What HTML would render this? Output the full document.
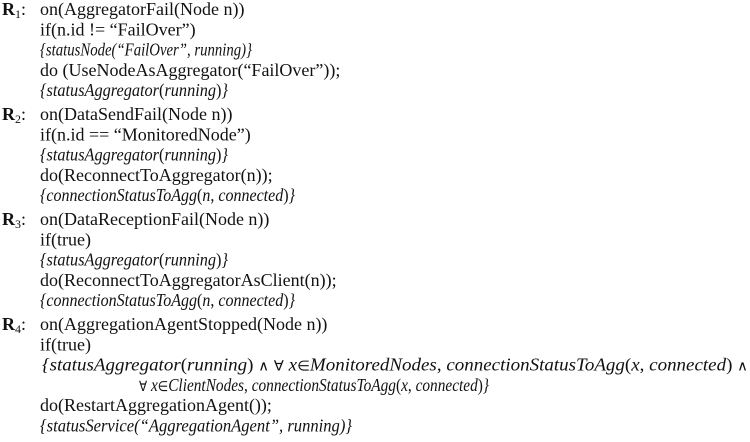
<!DOCTYPE html>
<html><head><meta charset="utf-8"><style>
html,body{margin:0;padding:0;background:#fff;}
svg{display:block;}
text{fill:#111;}
.i{font-style:italic;}
.b{font-weight:bold;}
.s{font-size:14px;}
</style></head><body>
<svg width="750" height="442" viewBox="0 0 750 442" font-family="'Liberation Serif','Times New Roman',serif" font-size="18">
<!-- R1 -->
<text x="2" y="15"><tspan class="b">R</tspan><tspan font-size="12" dy="3">1</tspan><tspan dy="-3">:</tspan></text>
<text x="40" y="15">on(AggregatorFail(Node n))</text>
<text x="40" y="35.3">if(n.id != “FailOver”)</text>
<text x="40" y="55.6" class="i" textLength="212" lengthAdjust="spacingAndGlyphs">{statusNode(“FailOver”, running)}</text>
<text x="40" y="75.9">do (UseNodeAsAggregator(“FailOver”));</text>
<text x="40" y="96.2" textLength="188" lengthAdjust="spacingAndGlyphs"><tspan class="i">{statusAggregator</tspan>(<tspan class="i">running</tspan>)<tspan class="i">}</tspan></text>
<!-- R2 -->
<text x="2" y="120"><tspan class="b">R</tspan><tspan font-size="12" dy="3">2</tspan><tspan dy="-3">:</tspan></text>
<text x="40" y="120">on(DataSendFail(Node n))</text>
<text x="40" y="140.3">if(n.id == “MonitoredNode”)</text>
<text x="40" y="160.6" textLength="188" lengthAdjust="spacingAndGlyphs"><tspan class="i">{statusAggregator</tspan>(<tspan class="i">running</tspan>)<tspan class="i">}</tspan></text>
<text x="40" y="180.9">do(ReconnectToAggregator(n));</text>
<text x="40" y="201.2" textLength="255" lengthAdjust="spacingAndGlyphs"><tspan class="i">{connectionStatusToAgg</tspan>(<tspan class="i">n</tspan>, <tspan class="i">connected</tspan>)<tspan class="i">}</tspan></text>
<!-- R3 -->
<text x="2" y="225"><tspan class="b">R</tspan><tspan font-size="12" dy="3">3</tspan><tspan dy="-3">:</tspan></text>
<text x="40" y="225">on(DataReceptionFail(Node n))</text>
<text x="40" y="245.3">if(true)</text>
<text x="40" y="265.6" textLength="188" lengthAdjust="spacingAndGlyphs"><tspan class="i">{statusAggregator</tspan>(<tspan class="i">running</tspan>)<tspan class="i">}</tspan></text>
<text x="40" y="285.9">do(ReconnectToAggregatorAsClient(n));</text>
<text x="40" y="306.2" textLength="255" lengthAdjust="spacingAndGlyphs"><tspan class="i">{connectionStatusToAgg</tspan>(<tspan class="i">n</tspan>, <tspan class="i">connected</tspan>)<tspan class="i">}</tspan></text>
<!-- R4 -->
<text x="2" y="330"><tspan class="b">R</tspan><tspan font-size="12" dy="3">4</tspan><tspan dy="-3">:</tspan></text>
<text x="40" y="330">on(AggregationAgentStopped(Node n))</text>
<text x="40" y="350.3">if(true)</text>
<text x="42" y="370.6" textLength="706" lengthAdjust="spacingAndGlyphs"><tspan class="i">{statusAggregator</tspan>(<tspan class="i">running</tspan>) <tspan class="s">∧</tspan> <tspan class="s">∀</tspan> <tspan class="i">x</tspan><tspan class="s">∈</tspan><tspan class="i">MonitoredNodes</tspan>, <tspan class="i">connectionStatusToAgg</tspan>(<tspan class="i">x</tspan>, <tspan class="i">connected</tspan>) <tspan class="s">∧</tspan></text>
<text x="139" y="390.9" textLength="350" lengthAdjust="spacingAndGlyphs"><tspan class="s">∀</tspan> <tspan class="i">x</tspan><tspan class="s">∈</tspan><tspan class="i">ClientNodes</tspan>, <tspan class="i">connectionStatusToAgg</tspan>(<tspan class="i">x</tspan>, <tspan class="i">connected</tspan>)<tspan class="i">}</tspan></text>
<text x="40" y="411.2">do(RestartAggregationAgent());</text>
<text x="40" y="431.5" class="i" textLength="312" lengthAdjust="spacingAndGlyphs">{statusService(“AggregationAgent”, running)}</text>
</svg>
</body></html>
